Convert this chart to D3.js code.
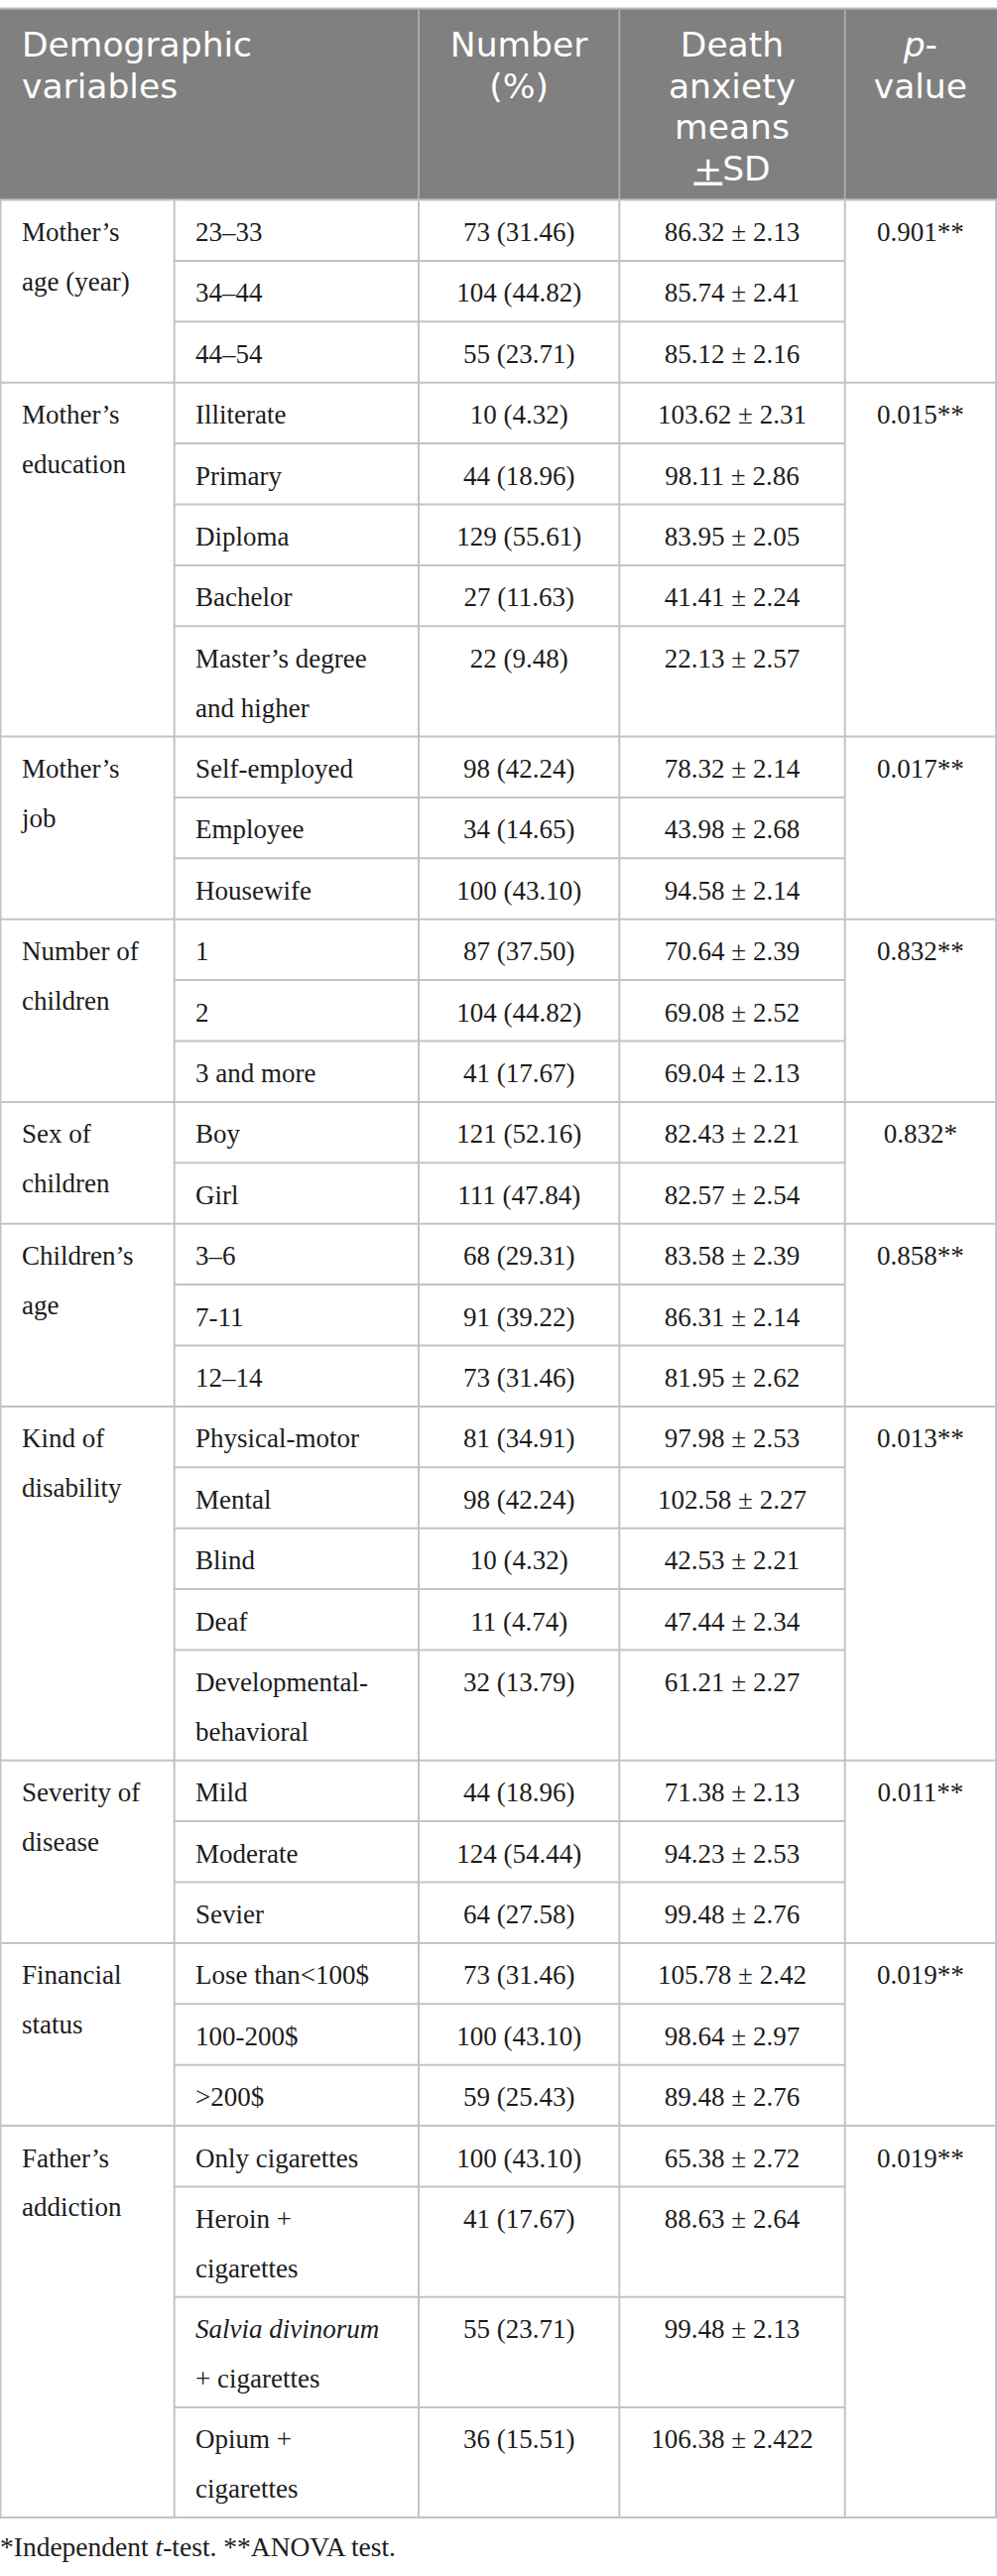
<!DOCTYPE html>
<html>
<head>
<meta charset="utf-8">
<script src="https://cdn.jsdelivr.net/npm/d3@7"></script>
<style>
  html, body { margin: 0; padding: 0; background: #fff; }
  svg { display: block; }
</style>
</head>
<body>
<div id="chart"></div>
<script>
// ---------------- DATA ----------------
const groupLabels = [
  ["Mother’s", "age (year)"],
  ["Mother’s", "education"],
  ["Mother’s", "job"],
  ["Number of", "children"],
  ["Sex of", "children"],
  ["Children’s", "age"],
  ["Kind of", "disability"],
  ["Severity of", "disease"],
  ["Financial", "status"],
  ["Father’s", "addiction"]
];
const groupSizes = [3, 5, 3, 3, 2, 3, 5, 3, 3, 4];
const pValues = ["0.901**", "0.015**", "0.017**", "0.832**", "0.832*", "0.858**", "0.013**", "0.011**", "0.019**", "0.019**"];

// sub-category labels; "|" = line break, "_..._" = italic
const subLabels = [
  "23–33", "34–44", "44–54",
  "Illiterate", "Primary", "Diploma", "Bachelor", "Master’s degree|and higher",
  "Self-employed", "Employee", "Housewife",
  "1", "2", "3 and more",
  "Boy", "Girl",
  "3–6", "7-11", "12–14",
  "Physical-motor", "Mental", "Blind", "Deaf", "Developmental-|behavioral",
  "Mild", "Moderate", "Sevier",
  "Lose than<100$", "100-200$", ">200$",
  "Only cigarettes", "Heroin +|cigarettes", "_Salvia divinorum_|+ cigarettes", "Opium +|cigarettes"
];
const counts = [73, 104, 55, 10, 44, 129, 27, 22, 98, 34, 100, 87, 104, 41, 121, 111, 68, 91, 73, 81, 98, 10, 11, 32, 44, 124, 64, 73, 100, 59, 100, 41, 55, 36];
const percents = ["31.46", "44.82", "23.71", "4.32", "18.96", "55.61", "11.63", "9.48", "42.24", "14.65", "43.10", "37.50", "44.82", "17.67", "52.16", "47.84", "29.31", "39.22", "31.46", "34.91", "42.24", "4.32", "4.74", "13.79", "18.96", "54.44", "27.58", "31.46", "43.10", "25.43", "43.10", "17.67", "23.71", "15.51"];
const means = ["86.32", "85.74", "85.12", "103.62", "98.11", "83.95", "41.41", "22.13", "78.32", "43.98", "94.58", "70.64", "69.08", "69.04", "82.43", "82.57", "83.58", "86.31", "81.95", "97.98", "102.58", "42.53", "47.44", "61.21", "71.38", "94.23", "99.48", "105.78", "98.64", "89.48", "65.38", "88.63", "99.48", "106.38"];
const sds = ["2.13", "2.41", "2.16", "2.31", "2.86", "2.05", "2.24", "2.57", "2.14", "2.68", "2.14", "2.39", "2.52", "2.13", "2.21", "2.54", "2.39", "2.14", "2.62", "2.53", "2.27", "2.21", "2.34", "2.27", "2.13", "2.53", "2.76", "2.42", "2.97", "2.76", "2.72", "2.64", "2.13", "2.422"];

const headerCols = [
  {lines: ["Demographic", "variables"], col: 0, align: "start"},
  {lines: ["Number", "(%)"], col: 2, align: "middle"},
  {lines: ["Death", "anxiety", "means", "+SD"], col: 3, align: "middle"},
  {lines: ["p-", "value"], col: 4, align: "middle"}
];
const footnote = [["*Independent ", false], ["t", true], ["-test. **ANOVA test.", false]];

// ---------------- LAYOUT ----------------
const W = 1005, H = 2597;
const colEdges = [0.5, 175.7, 422, 624.3, 851.7, 1004];
const headerTop = 8.5, headerBottom = 201.5;
const rowPad = 11.6, lineH = 49.8;
const baseOff = 41.5;
const headLineH = 41.5;
const bodyFont = "'Liberation Serif', 'Times New Roman', serif";
const headFont = "'DejaVu Sans', 'Open Sans', sans-serif";
const bodySize = 27, headSize = 34.5;
const lineColor = "#c3c3c3";
const textColor = "#1c1c1c";

// build rows
const rows = subLabels.map((s, i) => ({
  label: s.split("|"),
  count: counts[i], pct: percents[i], mean: means[i], sd: sds[i]
}));
rows.forEach(r => r.units = r.label.length);

// cumulative positions through a linear scale of "layout units"
let acc = 0;
rows.forEach(r => { r.u0 = acc; acc += rowPad + r.units * lineH; r.u1 = acc; });
const y = d3.scaleLinear().domain([0, acc]).range([headerBottom, headerBottom + acc]);

const groups = [];
let idx = 0;
groupSizes.forEach((n, g) => {
  groups.push({label: groupLabels[g], p: pValues[g], start: idx, end: idx + n - 1,
               y0: y(rows[idx].u0), y1: y(rows[idx + n - 1].u1)});
  idx += n;
});

const colCenter = c => (colEdges[c] + colEdges[c + 1]) / 2;

const svg = d3.select("#chart").append("svg").attr("width", W).attr("height", H);

// header background
svg.append("rect").attr("x", 0).attr("y", headerTop).attr("width", colEdges[5] + 1).attr("height", headerBottom - headerTop)
  .attr("fill", "#808080");
svg.append("line").attr("x1", 0).attr("x2", W).attr("y1", headerTop).attr("y2", headerTop)
  .attr("stroke", "#bdbdbd").attr("stroke-width", 2);
// header separators
[2, 3, 4].forEach(c => {
  svg.append("line").attr("x1", colEdges[c]).attr("x2", colEdges[c]).attr("y1", headerTop).attr("y2", headerBottom)
    .attr("stroke", "#a9a9a9").attr("stroke-width", 2);
});

// header text: one text element per cell, lines as tspans
const headG = svg.append("g").attr("font-family", headFont).attr("font-size", headSize).attr("fill", "#fff");
headerCols.forEach(h => {
  const x = h.align === "start" ? 22 : colCenter(h.col);
  const t = headG.append("text").attr("y", 57).attr("text-anchor", h.align);
  h.lines.forEach((ln, i) => {
    const line = t.append("tspan").attr("x", x).attr("y", 57 + i * headLineH);
    if (ln === "p-") {
      line.append("tspan").attr("font-style", "italic").text("p");
      line.append("tspan").text("-");
    } else if (ln === "+SD") {
      line.append("tspan").attr("text-decoration", "underline").text("+");
      line.append("tspan").text("SD");
    } else line.text(ln);
  });
});

// grid lines
const grid = svg.append("g").attr("stroke", lineColor).attr("stroke-width", 2);
rows.forEach((r, i) => {
  const isGroupEnd = groups.some(g => g.end === i);
  if (!isGroupEnd) {
    grid.append("line").attr("x1", colEdges[1]).attr("x2", colEdges[4])
      .attr("y1", y(r.u1)).attr("y2", y(r.u1));
  }
});
groups.forEach(g => {
  grid.append("line").attr("x1", 0).attr("x2", colEdges[5] + 1).attr("y1", g.y1).attr("y2", g.y1);
});
colEdges.forEach(cx => {
  grid.append("line").attr("x1", cx).attr("x2", cx).attr("y1", headerBottom).attr("y2", groups[groups.length - 1].y1);
});
grid.append("line").attr("x1", 0).attr("x2", colEdges[5] + 1).attr("y1", headerBottom).attr("y2", headerBottom);

// body text
const body = svg.append("g").attr("font-family", bodyFont).attr("font-size", bodySize).attr("fill", textColor);

function addRich(sel, str) {
  str.split("_").forEach((p, k) => {
    if (!p) return;
    const ts = sel.append("tspan").text(p);
    if (k % 2 === 1) ts.attr("font-style", "italic");
  });
}
function multiLine(x, yTop, lines, anchor) {
  const t = body.append("text").attr("x", x).attr("y", yTop + baseOff).attr("text-anchor", anchor || "start");
  lines.forEach((ln, i) => {
    addRich(t.append("tspan").attr("x", x).attr("y", yTop + baseOff + i * lineH), ln);
  });
  return t;
}

groups.forEach(g => {
  multiLine(22, g.y0, g.label);
  body.append("text").attr("x", colCenter(4)).attr("y", g.y0 + baseOff).attr("text-anchor", "middle").text(g.p);
});

rows.forEach(r => {
  const top = y(r.u0);
  multiLine(197, top, r.label);
  body.append("text").attr("x", colCenter(2)).attr("y", top + baseOff).attr("text-anchor", "middle")
    .text(`${r.count} (${r.pct})`);
  body.append("text").attr("x", colCenter(3)).attr("y", top + baseOff).attr("text-anchor", "middle")
    .text(`${r.mean} ± ${r.sd}`);
});

// footnote
const fn = body.append("text").attr("x", 0).attr("y", groups[groups.length - 1].y1 + 38.5).attr("font-size", 27.5);
footnote.forEach(([t, it]) => {
  const ts = fn.append("tspan").text(t);
  if (it) ts.attr("font-style", "italic");
});
</script>
</body>
</html>
